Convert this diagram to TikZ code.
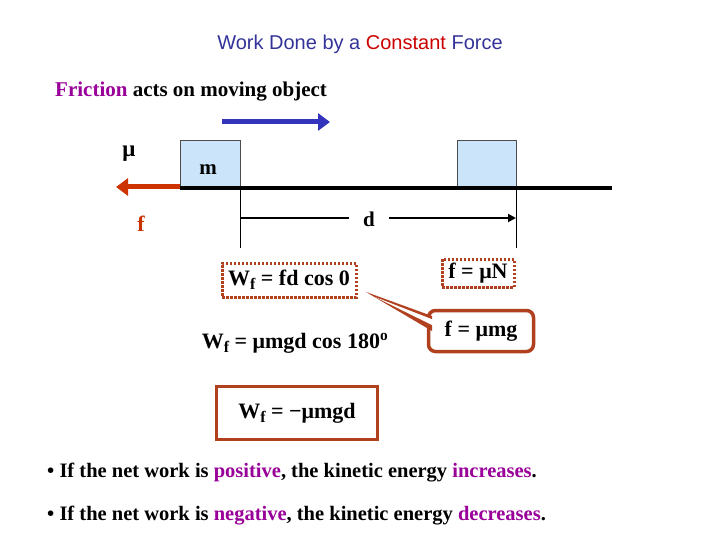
\documentclass[tikz,border=0pt]{standalone}
\usetikzlibrary{arrows.meta}
\usepackage{fontspec}
\setmainfont{Liberation Serif}
\newfontfamily\arial{Liberation Sans}
\definecolor{ttl}{HTML}{333399}
\definecolor{cred}{HTML}{CC0000}
\definecolor{mag}{HTML}{990099}
\definecolor{org}{HTML}{CC3300}
\definecolor{brk}{HTML}{B0401E}
\definecolor{blk}{HTML}{CCE4FA}
\definecolor{barr}{HTML}{3333BB}
\newcommand{\sbf}{\raisebox{-4pt}{\fontsize{16}{18}\selectfont f}}
\begin{document}
\begin{tikzpicture}[x=1pt,y=-1pt,
  txt/.style={inner sep=0pt},
  eq/.style={inner sep=2pt,font=\bfseries\fontsize{22}{24}\selectfont},
  dotbox/.style={draw=brk,line width=3pt,dash pattern=on 2.5pt off 1.5pt},
  blockst/.style={draw=black!70,fill=blk,line width=0.6pt}]
\useasboundingbox (0,0) rectangle (720,540);
\node[inner sep=0pt,font=\arial\fontsize{20}{22}\selectfont,text=ttl] (title) at (360,44) {Work Done by a \textcolor{cred}{Constant} Force};
\node[txt,anchor=west,font=\bfseries\fontsize{21}{24}\selectfont,text=black] (fr) at (55,92) {\textcolor{mag}{Friction} acts on moving object};
\coordinate (ba) at (222,122); \coordinate (bb) at (330,122);
\draw[barr,line width=5pt,-{Triangle[length=12pt,width=17pt]}] (ba) -- (bb);
\draw[blockst] (180,188) rectangle (240,140);
\node[blockst,minimum width=59pt,minimum height=47pt,anchor=south west] (b2) at (457,188) {};
\node[txt,font=\bfseries\fontsize{21}{24}\selectfont] (m) at (208,170) {m};
\coordinate (g1) at (180,188); \coordinate (g2) at (612,188);
\draw[line width=3.5pt] (g1) -- (g2);
\coordinate (r1) at (180,187); \coordinate (r2) at (116,187);
\draw[org,line width=5pt,-{Triangle[length=12pt,width=17pt]}] (r1) -- (r2);
\node[txt,font=\bfseries\fontsize{23}{26}\selectfont] (mu) at (129,154) {μ};
\node[txt,text=org,font=\bfseries\fontsize{22}{24}\selectfont] (f) at (141,224) {f};
\coordinate (v1a) at (240,188); \coordinate (v1b) at (240,248);
\coordinate (v2a) at (516,188); \coordinate (v2b) at (516,248);
\draw[line width=0.6pt] (v1a) -- (v1b) (v2a) -- (v2b);
\node[txt,fill=white,inner xsep=14pt,font=\bfseries\fontsize{21}{24}\selectfont] (d) at (369,219) {d};
\coordinate (da) at (240,218); \coordinate (db) at (516,218);
\draw[line width=1.8pt] (da) -- (da -| d.west);
\draw[line width=1.8pt,-{Triangle[length=8pt,width=8pt]}] (db -| d.east) -- (db);
\node[eq,dotbox,minimum width=134pt,minimum height=34pt] (e1) at (289,280) {W\sbf\ = fd cos 0};
\node[eq,dotbox,minimum width=72pt,minimum height=28pt] (e2) at (478,273) {f = μN};
\node[eq,draw=brk,line width=3.5pt,rounded corners=7pt,minimum width=105pt,minimum height=41pt] (e3) at (481,331) {f = μmg};
\coordinate (tip) at (366,292);
\fill[brk] (tip) -- (432,316) -- (432,331) -- cycle;
\fill[white] (375,297) -- (434,320) -- (434,326) -- cycle;
\node[eq] (e4) at (295,343) {W\sbf\ = μmgd cos 180\textsuperscript{o}};
\node[eq,draw=brk,line width=3.5pt,minimum width=161pt,minimum height=53pt] (e5) at (297,413) {W\sbf\ = −μmgd};
\node[txt,anchor=west,font=\bfseries\fontsize{20.5}{24}\selectfont] (l1) at (47,473) {• If the net work is \textcolor{mag}{positive}, the kinetic energy \textcolor{mag}{increases}.};
\node[txt,anchor=west,font=\bfseries\fontsize{20.5}{24}\selectfont] (l2) at (47,516) {• If the net work is \textcolor{mag}{negative}, the kinetic energy \textcolor{mag}{decreases}.};
\end{tikzpicture}
\end{document}
